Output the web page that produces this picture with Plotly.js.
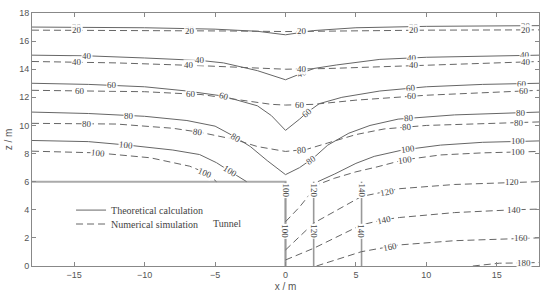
<!DOCTYPE html>
<html>
<head>
<meta charset="utf-8">
<script src="https://cdn.plot.ly/plotly-3.0.1.min.js"></script>
<style>
  body { margin: 0; background: #fff; }
  #chart { width: 550px; height: 298px; }
</style>
</head>
<body>
<div id="chart"></div>
<script>
// contour lines (x / m, z / m)
// S = theoretical calculation (solid), D = numerical simulation (dashed)
let xS20 = [-18, -10, -5, -2, 0, 2, 5, 10, 18];
let zS20 = [17.0, 16.95, 16.85, 16.7, 16.45, 16.75, 16.95, 17.05, 17.1];
let xD20 = [-18, -10, -4, 0, 4, 10, 18];
let zD20 = [16.78, 16.77, 16.72, 16.68, 16.73, 16.78, 16.8];

let xS40 = [-18, -14, -10, -7.5, -6, -4.4, -2, 0, 2, 3.6, 6.7, 10, 14, 18];
let zS40 = [15.0, 14.95, 14.8, 14.72, 14.62, 14.45, 13.9, 13.25, 14.05, 14.3, 14.7, 14.85, 14.95, 15.0];
let xD40 = [-18, -12, -6, -2, 0, 3, 10, 18];
let zD40 = [14.55, 14.45, 14.25, 14.05, 14.0, 14.05, 14.3, 14.55];

let xS60 = [-18, -14, -10, -7, -4.5, -2, -1, 0, 1, 1.5, 2.4, 4, 6.7, 10, 14, 18];
let zS60 = [13.0, 12.92, 12.75, 12.45, 12.1, 11.4, 10.7, 9.65, 10.45, 10.9, 11.55, 12.0, 12.45, 12.75, 12.92, 13.0];
let xD60 = [-18, -10, -6, -3, -1, 0, 2, 5, 10, 18];
let zD60 = [12.5, 12.4, 12.2, 11.75, 11.5, 11.45, 11.5, 11.8, 12.15, 12.5];

let xS80 = [-18, -14, -10, -7, -5, -3.7, -2.5, -1.3, 0, 1, 2, 3, 4.5, 6, 8, 12, 18];
let zS80 = [10.95, 10.85, 10.65, 10.35, 9.95, 9.25, 8.5, 7.5, 6.5, 7.0, 7.7, 8.6, 9.45, 10.0, 10.45, 10.75, 10.95];
let xD80 = [-18, -12, -8, -6, -3.6, -2, 0, 1.5, 3, 5, 7, 10, 18];
let zD80 = [10.15, 10.1, 9.8, 9.5, 9.0, 8.5, 8.15, 8.3, 8.75, 9.35, 9.75, 10.0, 10.25];

// the 100 lines are cut by the tunnel
let xS100 = [-18, -14, -11.2, -8, -6.1, -4.9, -3.95, -2.76, null, 2.3, 3.5, 5, 6.3, 8.3, 11, 14, 18];
let zS100 = [8.93, 8.85, 8.6, 8.25, 7.93, 7.35, 6.74, 6.0, null, 6.0, 6.55, 7.3, 7.8, 8.25, 8.6, 8.8, 8.9];
let xD100 = [-18, -13.4, -9.6, -6.8, -5.6, -4.9, null, 0, 1, 1.6, 2.3, 3.5, 5, 6.5, 8.4, 11, 14, 18];
let zD100 = [8.17, 8.05, 7.7, 7.1, 6.6, 6.0, null, 3.15, 4.2, 4.95, 5.8, 6.25, 6.7, 7.05, 7.55, 7.9, 8.05, 8.15];

let xD120 = [0, 2, 5.4, 7.2, 8.1, 12, 15.9, 18];
let zD120 = [1.14, 3.05, 4.95, 5.3, 5.5, 5.8, 5.95, 6.0];
let xD140 = [0, 2, 5.4, 7, 8.1, 12, 16.2, 18];
let zD140 = [0.43, 1.26, 2.93, 3.3, 3.45, 3.8, 4.0, 4.05];
let xD160 = [2.2, 5.4, 7.4, 8.1, 12, 16.7, 18];
let zD160 = [0, 1.02, 1.38, 1.5, 1.8, 1.98, 2.0];
let xD180 = [13.3, 15.2, 16.9, 18];
let zD180 = [0, 0.2, 0.22, 0.25];

// theoretical lines below the tunnel roof are vertical
let xS100v = [0, 0], zS100v = [0, 6];
let xS120v = [2, 2], zS120v = [0, 6];
let xS140v = [5.4, 5.4], zS140v = [0, 6];

// tunnel outline
let xTunnel = [-18, 0, 0];
let zTunnel = [6, 6, 0];

// where the level labels sit (x along the line, or z for vertical lines)
let labels20 = [-14.8, -6.8, 1.2, 9.1, 17.1];
let labelsS40 = [-14.1, -6.1, 1.2, 9.0, 17.0];
let labelsD40 = [-14.8, -6.85, 1.2, 9.1, 17.1];
let labelsS60 = [-12.3, -4.4, 1.5, 8.9, 16.8];
let labelsD60 = [-14.6, -6.7, 1.0, 9.0, 16.9];
let labelsS80 = [-11.1, -3.5, 1.8, 8.75, 16.7];
let labelsD80 = [-14.1, -6.2, 1.2, 8.6, 16.6];
let labelsS100 = [-11.3, -3.95, 8.7, 16.5];
let labelsD100 = [-13.3, -5.7, 8.5, 16.5];
let labelsD120 = [7.2, 16.1];
let labelsD140 = [7.0, 16.2];
let labelsD160 = [7.4, 16.7];
let labelsD180 = [16.9];
let labelsVert = [5.4, 2.5];

let lineCol = '#666';
let dashStyle = '7px,4px';
let serif = 'Liberation Serif, Times New Roman, serif';
let sans = 'Liberation Sans, Arial, sans-serif';

let traces = [];
let annotations = [];

function addLine(xs, zs, dashed, legendName, legendId) {
    traces.push({
        x: xs, y: zs,
        type: 'scatter', mode: 'lines',
        connectgaps: false,
        line: {color: lineCol, width: 1, dash: dashed ? dashStyle : 'solid'},
        name: legendName || '',
        showlegend: !!legendName,
        legend: legendId || 'legend',
        hoverinfo: 'skip'
    });
}

// plot area in px, used to turn slopes into text angles
let pxPerX = 507 / 36;
let pxPerZ = 253 / 18;

function addLabels(xs, zs, where, level) {
    where.forEach(function (lx) {
        for (let i = 0; i < xs.length - 1; i++) {
            if (xs[i] === null || xs[i + 1] === null) continue;
            if (lx >= xs[i] && lx <= xs[i + 1]) {
                let t = (lx - xs[i]) / (xs[i + 1] - xs[i]);
                let z = zs[i] + t * (zs[i + 1] - zs[i]);
                let slope = (zs[i + 1] - zs[i]) / (xs[i + 1] - xs[i]);
                let ang = -Math.atan(slope * pxPerZ / pxPerX) * 180 / Math.PI;
                annotations.push({
                    x: lx, y: z, text: String(level), showarrow: false,
                    textangle: Math.abs(ang) < 4 ? 0 : ang,
                    bgcolor: 'rgba(255,255,255,0.9)', borderpad: 0,
                    font: {family: serif, size: 9, color: '#444'}
                });
                break;
            }
        }
    });
}

function addVertLabels(x, where, level) {
    where.forEach(function (lz) {
        annotations.push({
            x: x, y: lz, text: String(level), showarrow: false, textangle: 90,
            bgcolor: 'white', borderpad: 0,
            font: {family: serif, size: 9, color: '#444'}
        });
    });
}

// tunnel and vertical theoretical lines (drawn thicker, lighter)
traces.push({
    x: xTunnel, y: zTunnel, type: 'scatter', mode: 'lines',
    line: {color: '#aaa', width: 2}, showlegend: false, hoverinfo: 'skip'
});
[[xS100v, zS100v], [xS120v, zS120v], [xS140v, zS140v]].forEach(function (v) {
    traces.push({
        x: v[0], y: v[1], type: 'scatter', mode: 'lines',
        line: {color: '#999', width: 1.6}, showlegend: false, hoverinfo: 'skip'
    });
});

addLine(xS20, zS20, false, 'Theoretical calculation', 'legend');
addLine(xD20, zD20, true, 'Numerical simulation', 'legend2');
addLine(xS40, zS40, false);
addLine(xD40, zD40, true);
addLine(xS60, zS60, false);
addLine(xD60, zD60, true);
addLine(xS80, zS80, false);
addLine(xD80, zD80, true);
addLine(xS100, zS100, false);
addLine(xD100, zD100, true);
addLine(xD120, zD120, true);
addLine(xD140, zD140, true);
addLine(xD160, zD160, true);
addLine(xD180, zD180, true);

addLabels(xS20, zS20, labels20, 20);
addLabels(xD20, zD20, labels20, 20);
addLabels(xS40, zS40, labelsS40, 40);
addLabels(xD40, zD40, labelsD40, 40);
addLabels(xS60, zS60, labelsS60, 60);
addLabels(xD60, zD60, labelsD60, 60);
addLabels(xS80, zS80, labelsS80, 80);
addLabels(xD80, zD80, labelsD80, 80);
addLabels(xS100, zS100, labelsS100, 100);
addLabels(xD100, zD100, labelsD100, 100);
addLabels(xD120, zD120, labelsD120, 120);
addLabels(xD140, zD140, labelsD140, 140);
addLabels(xD160, zD160, labelsD160, 160);
addLabels(xD180, zD180, labelsD180, 180);
addVertLabels(xS100v[0], labelsVert, 100);
addVertLabels(xS120v[0], labelsVert, 120);
addVertLabels(xS140v[0], labelsVert, 140);

annotations.push({
    x: -4.15, y: 3.0, text: 'Tunnel', showarrow: false,
    font: {family: serif, size: 10, color: '#444'}
});

let axisCommon = {
    showgrid: false, zeroline: false,
    showline: true, linecolor: '#888', linewidth: 1, mirror: 'ticks',
    ticks: 'inside', ticklen: 4, tickcolor: '#888',
    tickfont: {family: sans, size: 9, color: '#555'}
};

let legendCommon = {
    x: 0.077, xanchor: 'left', yanchor: 'middle',
    bgcolor: 'rgba(0,0,0,0)',
    font: {family: serif, size: 10, color: '#444'}
};

let layout = {
    width: 550, height: 298,
    margin: {l: 32, r: 11, t: 13, b: 32},
    paper_bgcolor: '#fff', plot_bgcolor: '#fff',
    showlegend: true,
    legend: Object.assign({}, legendCommon, {y: 0.221}),
    legend2: Object.assign({}, legendCommon, {y: 0.166}),
    xaxis: Object.assign({}, axisCommon, {
        range: [-18, 18], tickvals: [-15, -10, -5, 0, 5, 10, 15],
        title: {text: 'x / m', standoff: 4, font: {family: sans, size: 10, color: '#555'}}
    }),
    yaxis: Object.assign({}, axisCommon, {
        range: [0, 18], dtick: 2, tick0: 0,
        title: {text: 'z / m', standoff: 4, font: {family: sans, size: 10, color: '#555'}}
    }),
    annotations: annotations
};

Plotly.newPlot('chart', traces, layout, {staticPlot: true});
</script>
</body>
</html>
